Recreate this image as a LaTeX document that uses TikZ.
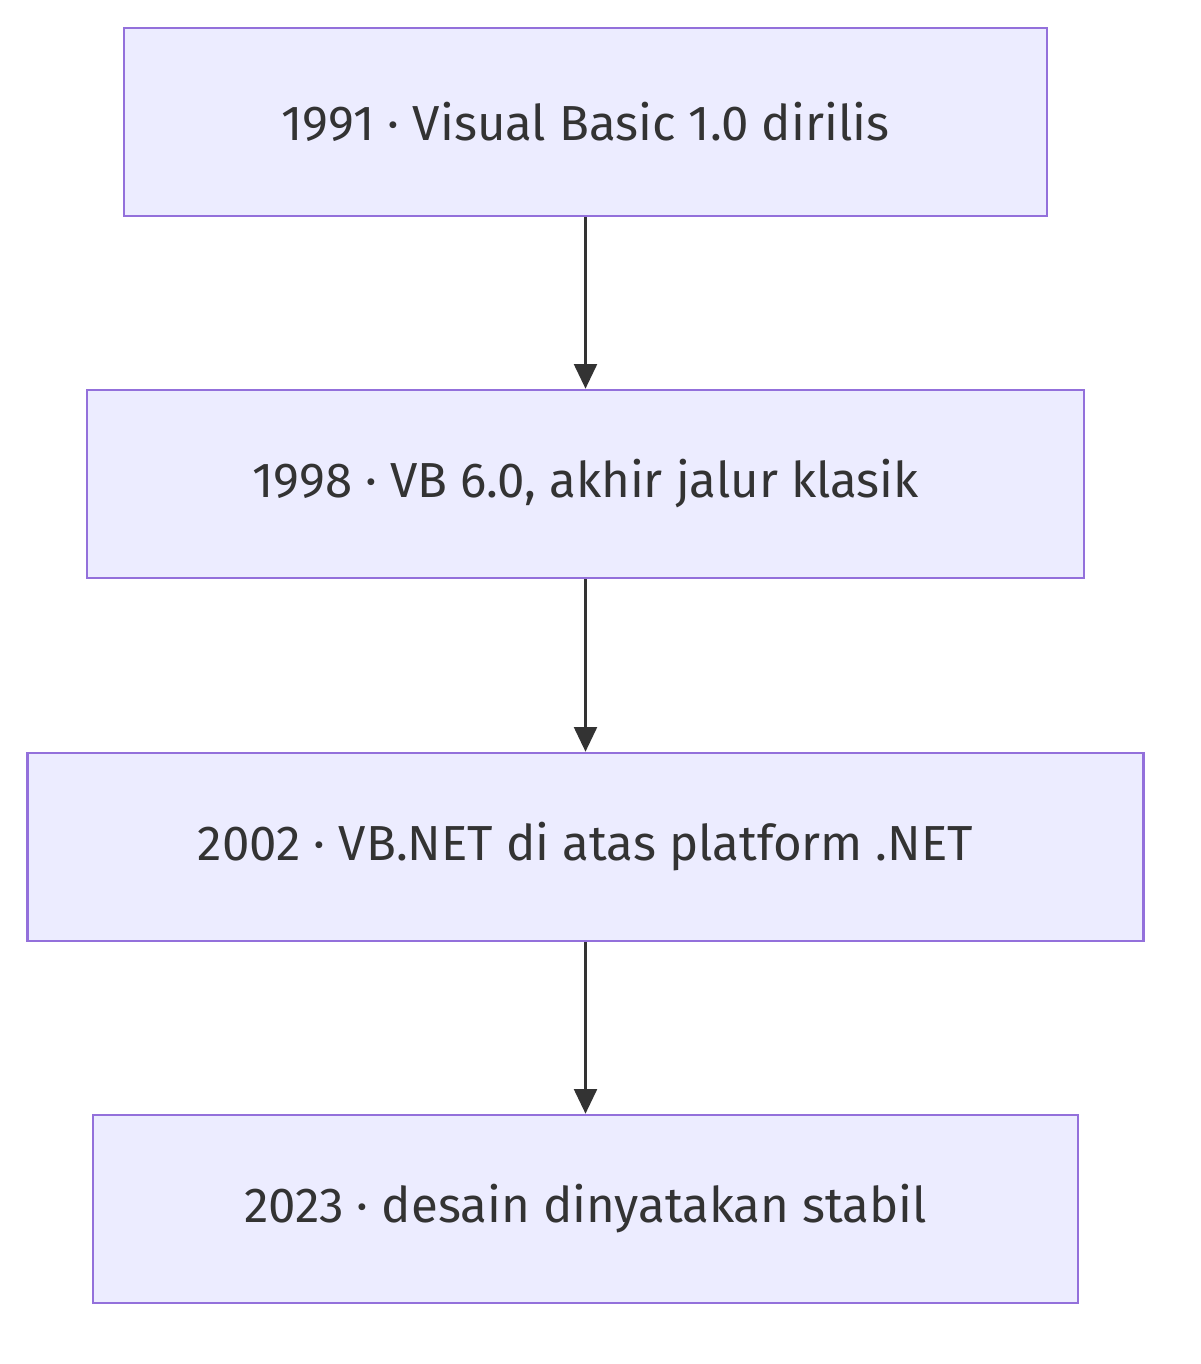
\documentclass[tikz,border=0pt]{standalone}
\usepackage{fontspec}
\setmainfont{Fira Sans}
\usetikzlibrary{positioning, arrows.meta}
\definecolor{boxfill}{HTML}{ECECFF}
\definecolor{boxline}{HTML}{9370DB}
\definecolor{ink}{HTML}{333333}
\begin{document}
\begin{tikzpicture}[
    x=0.02cm, y=-0.02cm,
    milestone/.style={rectangle, draw=boxline, fill=boxfill, line width=1.5pt, minimum height=3.76cm, text=ink, font=\fontsize{28}{34}\selectfont, inner sep=0pt},
    link/.style={-{Triangle[length=14pt,width=13pt]}, draw=ink, line width=1.5pt}
]
\useasboundingbox (0,0) rectangle (1200,1364);

% Timeline steps
\node[milestone, minimum width=18.46cm] (vb1) at (585.5,122) {1991 · Visual Basic 1.0 dirilis};
\node[milestone, minimum width=19.94cm] (vb6) at (585.5,484) {1998 · VB 6.0, akhir jalur klasik};
\node[milestone, minimum width=22.32cm] (vbnet) at (585.5,847) {2002 · VB.NET di atas platform .NET};
\node[milestone, minimum width=19.70cm] (stable) at (585.5,1209) {2023 · desain dinyatakan stabil};

% Arrows
\draw[link] (vb1) -- (vb6);
\draw[link] (vb6) -- (vbnet);
\draw[link] (vbnet) -- (stable);
\end{tikzpicture}
\end{document}
